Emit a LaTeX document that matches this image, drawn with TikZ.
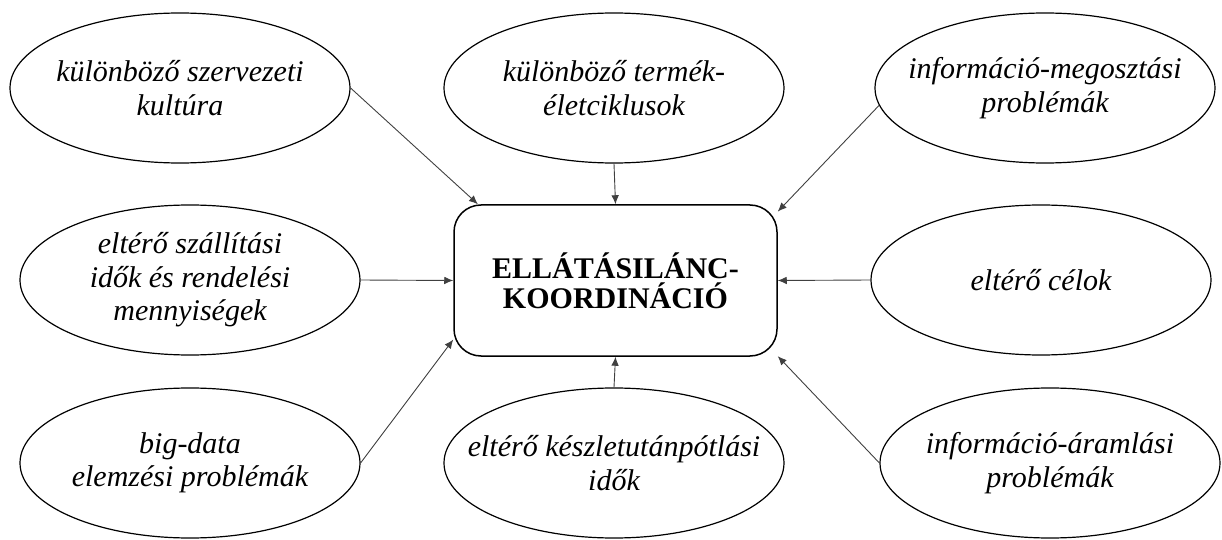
\documentclass[tikz,border=0pt]{standalone}
\usepackage{fontspec}
\setmainfont{Liberation Serif}
\usetikzlibrary{shapes.geometric,arrows.meta}
\tikzset{
	tenyezo/.style={ellipse,draw,line width=0.6pt,minimum width=170pt,minimum height=75pt,inner sep=-20pt,align=center,font=\fontsize{15}{16.7}\selectfont\itshape},
	kozpont/.style={rectangle,draw,line width=0.75pt,rounded corners=13.5pt,minimum width=161.5pt,minimum height=75.5pt,align=center,font=\fontsize{15}{15}\selectfont\bfseries},
	nyil/.style={->,draw=black!75,line width=0.45pt}
}
\begin{document}
\begin{tikzpicture}[x=0.5pt,y=-0.5pt,>={Latex[length=4.5pt,width=3.8pt]}]
	\useasboundingbox (0,0) rectangle (1222,540);
	\path
	(615.5,280.5) node[kozpont] (K) {ELLÁTÁSILÁNC-\\KOORDINÁCIÓ}
	(180,88) node[tenyezo] (A) {különböző szervezeti\\kultúra}
	(614,88) node[tenyezo] (B) {különböző termék-\\életciklusok}
	(1045,88) node[tenyezo] (C) {információ-megosztási\\problémák}
	(190,280) node[tenyezo] (D) {eltérő szállítási\\idők és rendelési\\mennyiségek}
	(1041,280) node[tenyezo] (E) {eltérő célok}
	(190,463) node[tenyezo] (F) {big-data\\elemzési problémák}
	(614,463) node[tenyezo] (G) {eltérő készletutánpótlási\\idők}
	(1050,463) node[tenyezo] (H) {információ-áramlási\\problémák}
	;
	\foreach \x/\y in {A.east/K.151,B.south/K.north,C.186/K.23,D.east/K.west,E.west/K.east,F.east/K.200,G.north/K.south,H.west/K.335}\draw[nyil] (\x)--(\y);
\end{tikzpicture}
\end{document}
